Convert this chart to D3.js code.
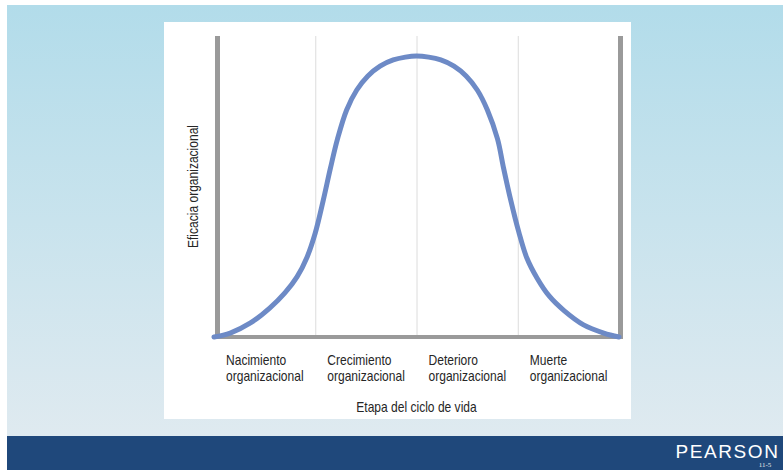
<!DOCTYPE html>
<html><head><meta charset="utf-8">
<script src="https://cdn.jsdelivr.net/npm/d3@7"></script>
<style>
html,body{margin:0;padding:0;background:#fff;}
svg{display:block;}
</style></head>
<body>
<svg id="c" width="783" height="470"></svg>
<script>
// Data
const stageLabels = [["Nacimiento","organizacional"],["Crecimiento","organizacional"],["Deterioro","organizacional"],["Muerte","organizacional"]];
const gridStages = [1, 2, 3];
const stage = [0, 0.16, 0.36, 0.55, 0.70, 0.82, 0.92, 1.00, 1.08, 1.15, 1.22, 1.31, 1.41, 1.52, 1.64, 1.77, 1.89, 2.00,
               2.12, 2.24, 2.37, 2.49, 2.60, 2.70, 2.80, 2.86, 2.93, 3.01, 3.09, 3.19, 3.31, 3.46, 3.65, 3.85, 4.0];
const efficacy = [0, 1.4, 5.0, 10.3, 15.7, 21.4, 28.5, 37.0, 48.8, 60.1, 70.5, 80.8, 87.9, 92.9, 96.4, 98.6, 99.6, 100,
                  99.6, 98.6, 96.4, 92.9, 87.9, 80.8, 70.5, 60.1, 48.8, 37.4, 28.1, 21.0, 14.6, 9.3, 4.3, 1.4, 0];
const xTitle = "Etapa del ciclo de vida";
const yTitle = "Eficacia organizacional";
const brand = "PEARSON";
const slideNo = "11-5";

const svg = d3.select("#c");
const W = 783, H = 470;

// background
const defs = svg.append("defs");
const g1 = defs.append("linearGradient").attr("id","bg").attr("x1",0).attr("y1",0).attr("x2",0).attr("y2",1);
g1.append("stop").attr("offset","0%").attr("stop-color","#b2dcea");
g1.append("stop").attr("offset","100%").attr("stop-color","#dfeaf0");
svg.append("rect").attr("x",0).attr("y",0).attr("width",W).attr("height",H).attr("fill","#ffffff");
svg.append("rect").attr("x",7).attr("y",5).attr("width",W-7).attr("height",431).attr("fill","url(#bg)");
svg.append("rect").attr("x",7).attr("y",436).attr("width",W-7).attr("height",34).attr("fill","#1f487b");
svg.append("text").attr("x",779.5).attr("y",457.5).attr("text-anchor","end")
  .attr("font-family","'Liberation Sans',sans-serif").attr("font-size",19)
  .attr("letter-spacing",1.6).attr("fill","#ffffff").text(brand);
svg.append("text").attr("x",765).attr("y",467).attr("text-anchor","middle")
  .attr("font-family","'Liberation Serif',serif").attr("font-size",7).attr("fill","#e8e8e8").text(slideNo);

// panel
svg.append("rect").attr("x",164).attr("y",22).attr("width",467).attr("height",397).attr("fill","#ffffff");

const x = d3.scaleLinear().domain([0,4]).range([214,619]);
const y = d3.scaleLinear().domain([0,100]).range([337,56]);

const axisCol = "#9a9a9a";
// grid
svg.append("g").selectAll("line").data(gridStages).join("line")
  .attr("x1",d=>x(d)+0.5).attr("x2",d=>x(d)+0.5).attr("y1",36).attr("y2",y(0))
  .attr("stroke","#dcdcdc").attr("stroke-width",1);

// axes bars
svg.append("line").attr("x1",x(0)+3.5).attr("x2",x(0)+3.5).attr("y1",36).attr("y2",y(0)+2)
  .attr("stroke",axisCol).attr("stroke-width",5);
svg.append("line").attr("x1",x(4)+1.5).attr("x2",x(4)+1.5).attr("y1",36).attr("y2",y(0)+2)
  .attr("stroke",axisCol).attr("stroke-width",5);
svg.append("line").attr("x1",x(0)+1).attr("x2",x(4)+4).attr("y1",y(0)).attr("y2",y(0))
  .attr("stroke",axisCol).attr("stroke-width",4);

// curve
const pts = stage.map((s,i)=>[s, efficacy[i]]);
const line = d3.line().x(d=>x(d[0])).y(d=>y(d[1])).curve(d3.curveCatmullRom.alpha(0.5));
svg.append("path").attr("d",line(pts)).attr("fill","none")
  .attr("stroke","#6d8ac6").attr("stroke-width",5).attr("stroke-linecap","round");

// labels (condensed by horizontal scaling)
const fam = "'Liberation Sans',Arial,sans-serif";
const sx = 0.86;
const txtCol = "#262626";
function addText(px, py, str, size, anchor){
  return svg.append("text").attr("transform",`translate(${px},${py}) scale(${sx},1)`)
    .attr("font-family",fam).attr("font-size",size).attr("fill",txtCol)
    .attr("text-anchor",anchor||"start").text(str);
}
stageLabels.forEach((l,i)=>{
  addText(x(i)+12, 365, l[0], 14);
  addText(x(i)+12, 380.5, l[1], 14);
});
addText(x(2), 411.5, xTitle, 14, "middle");
svg.append("text").attr("transform",`translate(198,186.5) rotate(-90) scale(${sx},1)`).attr("text-anchor","middle")
  .attr("font-family",fam).attr("font-size",14).attr("fill",txtCol).text(yTitle);
</script>
</body></html>
